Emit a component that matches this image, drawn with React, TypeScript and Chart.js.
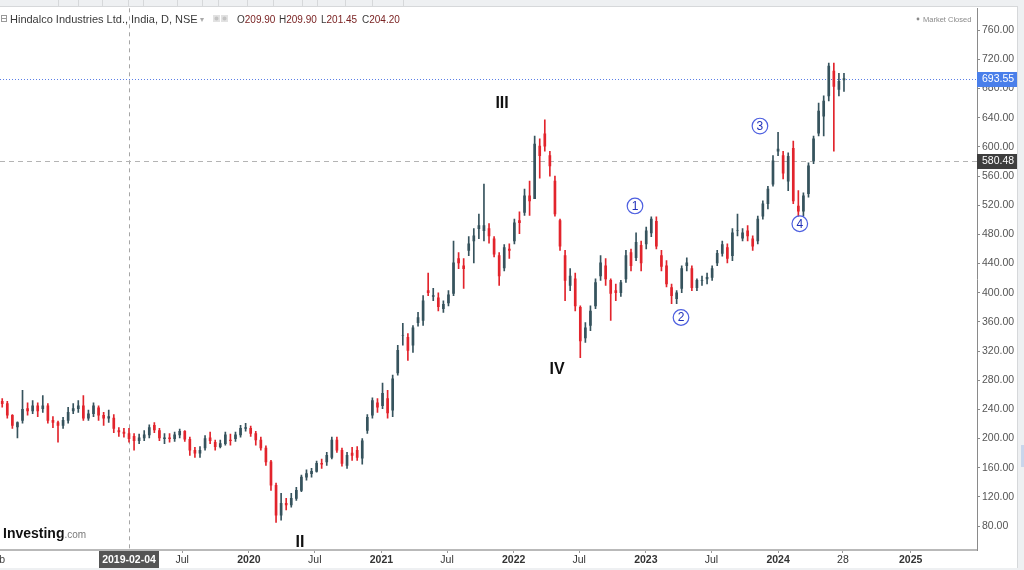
import React, { useEffect, useRef } from "react";
import { Chart, registerables } from "chart.js";

Chart.register(...registerables);

// ---------- data ----------
const REF_DATE = "2019-02-04";
const FIRST_CANDLE = "2018-02-19";
const CANDLE_STEP_DAYS = 14;

const opens = [
  251, 248, 232, 216, 225, 241, 238, 245, 241, 245,
  225, 222, 218, 225, 238, 241, 245, 228, 234, 242,
  232, 228, 228, 211, 209, 207, 203, 197, 201, 205,
  218, 211, 200, 201, 200, 205, 210, 199, 184, 180,
  187, 201, 195, 189, 193, 198, 200, 205, 214, 214,
  207, 198, 187, 168, 136, 95, 111, 109, 118, 129,
  147, 152, 155, 166, 168, 174, 198, 184, 163, 180,
  184, 173, 211, 232, 249, 245, 255, 239, 290, 341,
  339, 328, 359, 362, 403, 395, 393, 378, 386, 399,
  447, 437, 458, 471, 488, 485, 488, 474, 451, 434,
  460, 471, 499, 510, 533, 529, 601, 618, 588, 553,
  499, 451, 410, 419, 380, 338, 355, 382, 423, 437,
  417, 403, 400, 419, 455, 448, 465, 467, 482, 498,
  451, 437, 407, 392, 406, 437, 433, 407, 417, 419,
  421, 441, 454, 462, 451, 485, 475, 485, 474, 471,
  505, 522, 549, 594, 588, 553, 598, 519, 512, 536,
  581, 619, 642, 670, 704, 679, 692,
];
const highs = [
  255, 251, 233, 223, 266, 249, 252, 249, 259, 248,
  230, 224, 229, 243, 248, 252, 259, 239, 249, 245,
  236, 239, 233, 215, 214, 214, 207, 206, 211, 219,
  222, 214, 207, 207, 209, 213, 211, 202, 188, 189,
  204, 209, 198, 198, 209, 206, 209, 218, 221, 217,
  210, 202, 190, 170, 139, 125, 118, 125, 133, 150,
  157, 159, 169, 172, 181, 202, 202, 187, 181, 188,
  189, 200, 233, 256, 255, 276, 266, 287, 328, 358,
  344, 355, 373, 396, 427, 406, 400, 389, 403, 471,
  455, 447, 477, 488, 508, 549, 495, 477, 455, 466,
  467, 501, 511, 542, 553, 615, 611, 637, 594, 560,
  501, 458, 433, 427, 382, 359, 382, 419, 451, 447,
  419, 412, 417, 458, 460, 482, 471, 490, 504, 504,
  458, 444, 412, 403, 437, 448, 437, 419, 423, 427,
  437, 458, 471, 467, 488, 508, 488, 492, 478, 505,
  526, 546, 588, 620, 594, 592, 608, 540, 537, 578,
  615, 660, 670, 715, 715, 701, 701,
];
const lows = [
  243, 228, 214, 201, 221, 232, 234, 230, 236, 221,
  215, 195, 214, 221, 234, 236, 225, 225, 230, 225,
  218, 222, 208, 203, 202, 195, 184, 193, 197, 201,
  208, 197, 193, 195, 196, 201, 196, 177, 174, 174,
  184, 193, 184, 187, 191, 191, 196, 202, 210, 203,
  191, 184, 163, 129, 85, 88, 102, 106, 115, 127,
  143, 147, 154, 159, 163, 172, 181, 162, 159, 170,
  170, 165, 207, 228, 236, 241, 228, 230, 287, 328,
  307, 318, 354, 355, 396, 389, 375, 373, 382, 396,
  433, 406, 451, 441, 474, 471, 468, 449, 410, 430,
  447, 467, 481, 506, 506, 529, 557, 594, 560, 505,
  458, 389, 403, 375, 311, 332, 348, 378, 417, 410,
  362, 389, 395, 414, 430, 444, 430, 460, 477, 460,
  430, 408, 385, 385, 400, 430, 403, 403, 410, 412,
  417, 437, 450, 441, 444, 478, 471, 471, 458, 467,
  501, 515, 546, 588, 556, 540, 522, 505, 505, 531,
  577, 615, 615, 663, 594, 670, 676,
];
const closes = [
  248, 232, 218, 222, 240, 238, 245, 238, 245, 225,
  222, 218, 225, 236, 241, 245, 228, 234, 245, 232,
  228, 230, 214, 209, 207, 200, 197, 201, 205, 215,
  212, 201, 201, 200, 205, 210, 199, 184, 180, 184,
  200, 197, 189, 193, 205, 197, 205, 214, 215, 207,
  198, 187, 168, 136, 95, 111, 109, 118, 129, 147,
  152, 155, 166, 165, 177, 198, 184, 166, 177, 177,
  174, 197, 229, 252, 243, 262, 235, 282, 321, 341,
  321, 352, 366, 389, 400, 396, 381, 384, 397, 441,
  441, 433, 467, 478, 492, 492, 478, 453, 423, 462,
  458, 496, 496, 533, 526, 604, 588, 601, 574, 508,
  464, 417, 423, 382, 334, 352, 375, 414, 441, 419,
  399, 400, 414, 451, 437, 469, 441, 485, 501, 464,
  436, 412, 396, 400, 433, 441, 407, 417, 417, 421,
  433, 454, 466, 447, 482, 485, 482, 478, 464, 501,
  522, 542, 581, 597, 564, 587, 526, 512, 533, 574,
  611, 649, 663, 711, 683, 690, 693.55,
];

const xTickDates = [
  "2019-07-01", "2020-01-01", "2020-07-01", "2021-01-01", "2021-07-01", "2022-01-01",
  "2022-07-01", "2023-01-01", "2023-07-01", "2024-01-01", "2024-06-28", "2025-01-01",
];
const xTickLabels = ["Jul", "2020", "Jul", "2021", "Jul", "2022", "Jul", "2023", "Jul", "2024", "28", "2025"];
const yTickValues = [80, 120, 160, 200, 240, 280, 320, 360, 400, 440, 480, 520, 560, 600, 640, 680, 720, 760];

const lastPrice = 693.55;
const cursorPrice = 580.48;
const cursorDate = "2019-02-04";
const ohlcLetters = ["O", "H", "L", "C"];
const ohlcValues = ["209.90", "209.90", "201.45", "204.20"];

const waveLabels = ["II", "III", "IV"];
const waveDates = ["2020-05-21", "2021-11-30", "2022-05-01"];
const wavePrices = [56.7, 659.4, 294.1];
const subLabels = ["1", "2", "3", "4"];
const subDates = ["2022-12-02", "2023-04-08", "2023-11-12", "2024-03-01"];
const subPrices = [519, 366, 628.6, 494.6];

// ---------- helpers ----------
const dayOf = (d: string) => Math.round((Date.parse(d) - Date.parse(REF_DATE)) / 86400000);
const candleDays = closes.map((_, i) => dayOf(FIRST_CANDLE) + i * CANDLE_STEP_DAYS);
const UP = "#36535d";
const DOWN = "#e2242c";
const colorFor = (i: number) => (closes[i] >= opens[i] ? UP : DOWN);
const FONT = '"Liberation Sans", Arial, sans-serif';

const overlayPlugin = {
  id: "overlay",
  beforeDraw(chart: any) {
    const { ctx } = chart;
    ctx.save();
    ctx.fillStyle = "#ffffff";
    ctx.fillRect(0, 0, chart.width, chart.height);
    ctx.restore();
  },
  beforeDatasetsDraw(chart: any) {
    const { ctx, chartArea: a, scales } = chart;
    const x = Math.round(scales.x.getPixelForValue(dayOf(cursorDate))) + 0.5;
    const yc = Math.round(scales.y.getPixelForValue(cursorPrice)) + 0.5;
    const yl = Math.round(scales.y.getPixelForValue(lastPrice)) + 0.5;
    ctx.save();
    ctx.lineWidth = 1;
    ctx.strokeStyle = "#a6a6a6";
    ctx.setLineDash([4, 4]);
    ctx.beginPath();
    ctx.moveTo(x, a.top);
    ctx.lineTo(x, a.bottom);
    ctx.stroke();
    ctx.setLineDash([5, 4]);
    ctx.strokeStyle = "#b4b4b4";
    ctx.beginPath();
    ctx.moveTo(a.left, yc);
    ctx.lineTo(a.right, yc);
    ctx.stroke();
    ctx.setLineDash([1, 2]);
    ctx.strokeStyle = "#5b7fe6";
    ctx.beginPath();
    ctx.moveTo(a.left, yl);
    ctx.lineTo(a.right, yl);
    ctx.stroke();
    ctx.restore();
  },
  afterDraw(chart: any) {
    const { ctx, chartArea: a, scales } = chart;
    const W = chart.width;
    const H = chart.height;
    ctx.save();
    // frame strips
    ctx.fillStyle = "#eef0f2";
    ctx.fillRect(0, 0, W, 6);
    ctx.fillRect(1018, 0, W - 1018, H);
    ctx.fillRect(0, 568, W, H - 568);
    ctx.strokeStyle = "#d6d8da";
    ctx.lineWidth = 1;
    [58, 78, 102, 128, 143, 177, 202, 218, 247, 273, 302, 317, 345, 372, 403].forEach((sx) => {
      ctx.beginPath();
      ctx.moveTo(sx + 0.5, 0);
      ctx.lineTo(sx + 0.5, 6);
      ctx.stroke();
    });
    ctx.beginPath();
    ctx.moveTo(0, 6.5);
    ctx.lineTo(1018, 6.5);
    ctx.moveTo(1017.5, 6);
    ctx.lineTo(1017.5, 568);
    ctx.stroke();
    ctx.fillStyle = "#c9d6ec";
    ctx.fillRect(1021, 445, 3, 22);

    // price label boxes on the right axis
    const boxLabel = (price: number, fill: string) => {
      const y = scales.y.getPixelForValue(price);
      ctx.fillStyle = fill;
      ctx.fillRect(a.right, Math.round(y) - 7, 40, 15);
      ctx.fillStyle = "#ffffff";
      ctx.font = `10.5px ${FONT}`;
      ctx.textAlign = "left";
      ctx.textBaseline = "middle";
      ctx.fillText(price.toFixed(2), a.right + 5, Math.round(y) + 0.5);
    };
    boxLabel(lastPrice, "#4a7fea");
    boxLabel(cursorPrice, "#3e3e3e");

    // date cursor label
    const cx = scales.x.getPixelForValue(dayOf(cursorDate));
    ctx.fillStyle = "#555555";
    ctx.fillRect(Math.round(cx) - 30, a.bottom + 1, 60, 17);
    ctx.fillStyle = "#ffffff";
    ctx.font = `bold 10.5px ${FONT}`;
    ctx.textAlign = "center";
    ctx.textBaseline = "middle";
    ctx.fillText(cursorDate, Math.round(cx), a.bottom + 10);
    // cut-off month label at far left
    ctx.fillStyle = "#444";
    ctx.font = `10.5px ${FONT}`;
    ctx.textAlign = "right";
    ctx.fillText("Feb", 5, a.bottom + 10);

    // title line
    ctx.textBaseline = "alphabetic";
    ctx.textAlign = "left";
    ctx.strokeStyle = "#9a9a9a";
    ctx.strokeRect(1.5, 15.5, 5, 6);
    ctx.beginPath();
    ctx.moveTo(2, 18.5);
    ctx.lineTo(6.5, 18.5);
    ctx.stroke();
    ctx.fillStyle = "#3a3a3a";
    ctx.font = `11px ${FONT}`;
    ctx.fillText("Hindalco Industries Ltd., India, D, NSE", 10, 23);
    ctx.fillStyle = "#aaaaaa";
    ctx.font = `8px ${FONT}`;
    ctx.fillText("\u25BE", 200, 22);
    ctx.fillStyle = "#e2e2e2";
    ctx.fillRect(213, 15, 7, 7);
    ctx.fillRect(221, 15, 7, 7);
    ctx.fillStyle = "#c4c4c4";
    ctx.beginPath();
    ctx.arc(216.5, 18.5, 2, 0, Math.PI * 2);
    ctx.arc(224.5, 18.5, 2, 0, Math.PI * 2);
    ctx.fill();
    const ohlcX = [237, 279, 321, 362];
    ohlcLetters.forEach((l, i) => {
      ctx.font = `10px ${FONT}`;
      ctx.fillStyle = "#3a3a3a";
      ctx.fillText(l, ohlcX[i], 23);
      const lw = ctx.measureText(l).width;
      ctx.fillStyle = "#7a2323";
      ctx.fillText(ohlcValues[i], ohlcX[i] + lw, 23);
    });
    // market closed
    ctx.fillStyle = "#8a8a8a";
    ctx.beginPath();
    ctx.arc(918, 19, 1.4, 0, Math.PI * 2);
    ctx.fill();
    ctx.font = `7.5px ${FONT}`;
    ctx.fillText("Market Closed", 923, 22);

    // Investing.com logo
    ctx.fillStyle = "#111111";
    ctx.font = `bold 14px ${FONT}`;
    ctx.fillText("Investing", 3, 538);
    const iw = ctx.measureText("Investing").width;
    ctx.fillStyle = "#7a7a7a";
    ctx.font = `10px ${FONT}`;
    ctx.fillText(".com", 3 + iw, 538);

    // wave labels
    ctx.textAlign = "center";
    ctx.textBaseline = "middle";
    ctx.fillStyle = "#111111";
    ctx.font = `bold 16px ${FONT}`;
    waveLabels.forEach((t, i) => {
      ctx.fillText(t, scales.x.getPixelForValue(dayOf(waveDates[i])), scales.y.getPixelForValue(wavePrices[i]));
    });
    subLabels.forEach((t, i) => {
      const px = scales.x.getPixelForValue(dayOf(subDates[i]));
      const py = scales.y.getPixelForValue(subPrices[i]);
      ctx.strokeStyle = "#4d5fe0";
      ctx.lineWidth = 1.2;
      ctx.beginPath();
      ctx.arc(px, py, 7.8, 0, Math.PI * 2);
      ctx.stroke();
      ctx.fillStyle = "#2030b8";
      ctx.font = `12px ${FONT}`;
      ctx.fillText(t, px, py + 0.5);
    });
    ctx.restore();
  },
};

export default function App() {
  const ref = useRef<HTMLCanvasElement>(null);
  useEffect(() => {
    document.body.style.margin = "0";
    const canvas = ref.current;
    if (!canvas) return;
    const chart = new Chart(canvas, {
      type: "bar",
      data: {
        datasets: [
          {
            label: "wick",
            data: candleDays.map((d, i) => ({ x: d, y: [lows[i], highs[i]] })) as any,
            backgroundColor: (c: any) => colorFor(c.dataIndex),
            barThickness: 1,
            grouped: false,
            borderWidth: 0,
            order: 2,
          } as any,
          {
            label: "body",
            data: candleDays.map((d, i) => ({ x: d, y: [opens[i], closes[i]] })) as any,
            backgroundColor: (c: any) => colorFor(c.dataIndex),
            barThickness: 2,
            grouped: false,
            borderWidth: 0,
            order: 1,
          } as any,
        ],
      },
      options: {
        responsive: false,
        devicePixelRatio: 1,
        animation: false,
        events: [],
        layout: { padding: { top: 7, right: 7, bottom: 2, left: 0 } },
        plugins: { legend: { display: false }, tooltip: { enabled: false } },
        scales: {
          x: {
            type: "linear",
            offset: false,
            min: -356.15,
            max: 2341.25,
            afterBuildTicks: (s: any) => {
              s.ticks = xTickDates.map((d) => ({ value: dayOf(d) }));
            },
            afterFit: (s: any) => {
              s.height = 18;
            },
            grid: { display: true, drawOnChartArea: false, drawTicks: true, tickLength: 3, color: "#9a9a9a", offset: false },
            border: { display: true, color: "#b9b9b9", width: 2 },
            ticks: {
              autoSkip: false,
              maxRotation: 0,
              padding: 1,
              color: "#333333",
              callback: (_v: any, i: number) => xTickLabels[i],
              font: (c: any) => ({
                family: FONT,
                size: 10.5,
                weight: /^\d{4}$/.test(xTickLabels[c.index] || "") ? "bold" : "normal",
              }),
            },
          } as any,
          y: {
            type: "linear",
            position: "right",
            min: 47.16,
            max: 790.1,
            afterBuildTicks: (s: any) => {
              s.ticks = yTickValues.map((v) => ({ value: v }));
            },
            afterFit: (s: any) => {
              s.width = 40;
            },
            grid: { display: true, drawOnChartArea: false, drawTicks: true, tickLength: 3, color: "#8a8a8a" },
            border: { display: true, color: "#8a8a8a", width: 1 },
            ticks: {
              padding: 2,
              color: "#555555",
              font: { family: FONT, size: 10.5 },
              callback: (v: any) => Number(v).toFixed(2),
            },
          } as any,
        },
      },
      plugins: [overlayPlugin],
    });
    return () => chart.destroy();
  }, []);
  return (
    <div style={{ position: "absolute", left: 0, top: 0, width: 1024, height: 570, background: "#fff" }}>
      <canvas ref={ref} width={1024} height={570} style={{ display: "block", width: 1024, height: 570 }} />
    </div>
  );
}
